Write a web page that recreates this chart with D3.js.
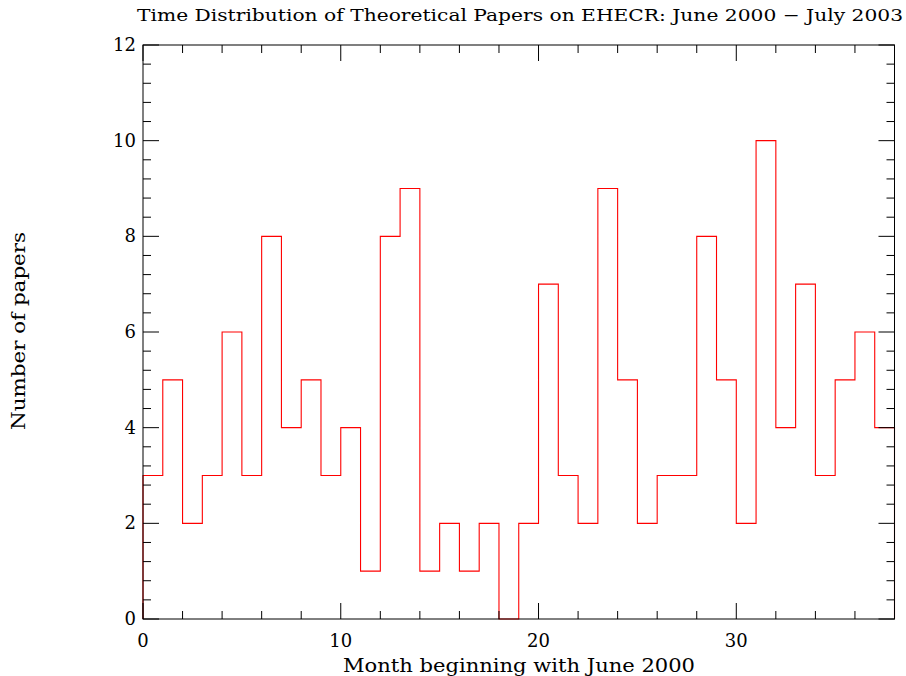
<!DOCTYPE html>
<html><head><meta charset="utf-8">
<script src="https://cdn.jsdelivr.net/npm/d3@7"></script>
<style>body{margin:0;background:#fff}svg{display:block}text{font-family:"DejaVu Serif","Liberation Serif",serif;fill:#000}</style>
</head><body><svg id="c" width="906" height="676"></svg>
<script>
const months = d3.range(0, 38);
const papers = [3,5,2,3,6,3,8,4,5,3,4,1,8,9,1,2,1,2,0,2,7,3,2,9,5,2,3,3,8,5,2,10,4,7,3,5,6,4];
const xMajorTicks = [0,10,20,30];
const yMajorTicks = [0,2,4,6,8,10,12];
const titleText = "Time Distribution of Theoretical Papers on EHECR: June 2000 \u2212 July 2003";
const xLabel = "Month beginning with June 2000";
const yLabel = "Number of papers";

const svg = d3.select("#c");
const L = 143, R = 894.5, T = 45, B = 619;
const x = d3.scaleLinear().domain([0,38]).range([L,R]);
const y = d3.scaleLinear().domain([0,12]).range([B,T]);

// histogram step path
const pts = [[0,0]];
months.forEach((m,i)=>{ pts.push([m,papers[i]]); pts.push([m+1,papers[i]]); });
pts.push([38,0]);
svg.append("path")
  .attr("d", d3.line().x(d=>x(d[0])).y(d=>y(d[1]))(pts))
  .attr("fill","none").attr("stroke","#ff0000").attr("stroke-width",1.1);

// frame
svg.append("rect").attr("x",L).attr("y",T).attr("width",R-L).attr("height",B-T)
  .attr("fill","none").attr("stroke","#000").attr("stroke-width",1);

const g = svg.append("g").attr("stroke","#000").attr("stroke-width",1);
const xMinor = d3.range(0,38.01,2);
xMinor.forEach(v=>{
  const len = xMajorTicks.includes(v) ? 16 : 8;
  g.append("line").attr("x1",x(v)).attr("x2",x(v)).attr("y1",B).attr("y2",B-len);
  g.append("line").attr("x1",x(v)).attr("x2",x(v)).attr("y1",T).attr("y2",T+len);
});
const yMinor = d3.range(0,12.001,0.4).map(v=>+v.toFixed(1));
yMinor.forEach(v=>{
  const len = yMajorTicks.includes(v) ? 16 : 8;
  g.append("line").attr("y1",y(v)).attr("y2",y(v)).attr("x1",L).attr("x2",L+len);
  g.append("line").attr("y1",y(v)).attr("y2",y(v)).attr("x1",R).attr("x2",R-len);
});

// tick labels
svg.selectAll(".xl").data(xMajorTicks).enter().append("text")
  .attr("x",d=>x(d)).attr("y",647).attr("text-anchor","middle")
  .attr("font-size",18).text(d=>d);
svg.selectAll(".yl").data(yMajorTicks).enter().append("text")
  .attr("x",136).attr("y",d=>y(d)+6).attr("text-anchor","end")
  .attr("font-size",18).text(d=>d);

svg.append("text").attr("x",520).attr("y",21).attr("text-anchor","middle")
  .attr("font-size",16.5).attr("textLength",766).attr("lengthAdjust","spacingAndGlyphs").text(titleText);
svg.append("text").attr("x",519).attr("y",672).attr("text-anchor","middle")
  .attr("font-size",18).attr("textLength",352).attr("lengthAdjust","spacingAndGlyphs").text(xLabel);
svg.append("text").attr("transform","translate(25,331) rotate(-90)").attr("text-anchor","middle")
  .attr("font-size",18).attr("textLength",198).attr("lengthAdjust","spacingAndGlyphs").text(yLabel);
</script></body></html>
